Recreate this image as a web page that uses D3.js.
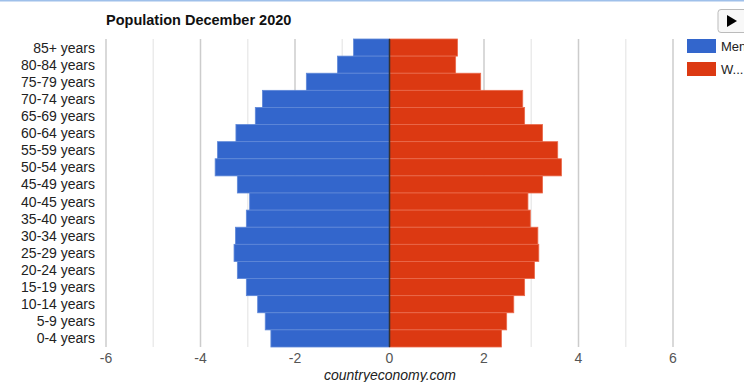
<!DOCTYPE html>
<html>
<head>
<meta charset="utf-8">
<script src="https://cdn.jsdelivr.net/npm/d3@7"></script>
<style>
  body { margin: 0; background: #fff; font-family: Arial, "Liberation Sans", sans-serif; }
  svg { display: block; }
</style>
</head>
<body>
<svg id="chart" width="744" height="382"></svg>
<script>
// === Data ===
const ageGroups = ['85+ years', '80-84 years', '75-79 years', '70-74 years', '65-69 years',
  '60-64 years', '55-59 years', '50-54 years', '45-49 years', '40-45 years', '35-40 years',
  '30-34 years', '25-29 years', '20-24 years', '15-19 years', '10-14 years', '5-9 years', '0-4 years'];
const men = [-0.76, -1.10, -1.76, -2.69, -2.84, -3.25, -3.64, -3.69, -3.22, -2.96, -3.03,
  -3.26, -3.29, -3.22, -3.03, -2.79, -2.63, -2.51];
const women = [1.44, 1.40, 1.93, 2.82, 2.86, 3.24, 3.56, 3.64, 3.24, 2.93, 2.98,
  3.14, 3.16, 3.07, 2.86, 2.63, 2.48, 2.37];
const ticks = [-6, -4, -2, 0, 2, 4, 6];
const seriesNames = ['Men', 'W...'];

const BLUE = '#3366CC', RED = '#DC3912';

// === Layout ===
const svg = d3.select('#chart');
const plot = { left: 106, right: 673, top: 39, bottom: 347 };

const x = d3.scaleLinear().domain([-6, 6]).range([plot.left, plot.right]);
const y = d3.scaleBand().domain(ageGroups).range([plot.top, plot.bottom]).padding(0);

// top border line
svg.append('line')
  .attr('x1', 0).attr('x2', 744).attr('y1', 0.5).attr('y2', 0.5)
  .attr('stroke', '#9fc0ea').attr('stroke-width', 2);

// title
svg.append('text')
  .attr('x', 106).attr('y', 25)
  .attr('font-size', 14.5).attr('font-weight', 'bold').attr('fill', '#111')
  .text('Population December 2020');

// gridlines (major every 2, minor every 1)
const grid = svg.append('g');
d3.range(-6, 7, 1).forEach(v => {
  grid.append('line')
    .attr('x1', x(v)).attr('x2', x(v))
    .attr('y1', plot.top).attr('y2', plot.bottom)
    .attr('stroke', v % 2 === 0 ? '#cccccc' : '#ebebeb')
    .attr('stroke-width', 1.5);
});

// bars
const bars = svg.append('g');
bars.selectAll('rect.men')
  .data(men)
  .join('rect')
  .attr('class', 'men')
  .attr('x', d => x(d))
  .attr('y', (d, i) => y(ageGroups[i]))
  .attr('width', d => x(0) - x(d))
  .attr('height', y.bandwidth())
  .attr('fill', BLUE)
  .attr('stroke', '#5f88d8').attr('stroke-width', 0.8);

bars.selectAll('rect.women')
  .data(women)
  .join('rect')
  .attr('class', 'women')
  .attr('x', x(0))
  .attr('y', (d, i) => y(ageGroups[i]))
  .attr('width', d => x(d) - x(0))
  .attr('height', y.bandwidth())
  .attr('fill', RED)
  .attr('stroke', '#ea6a4c').attr('stroke-width', 0.8);

// zero baseline
svg.append('line')
  .attr('x1', x(0)).attr('x2', x(0))
  .attr('y1', plot.top).attr('y2', plot.bottom)
  .attr('stroke', '#333').attr('stroke-width', 1.5);

// y labels
svg.append('g').selectAll('text')
  .data(ageGroups)
  .join('text')
  .attr('x', 95)
  .attr('y', d => y(d) + y.bandwidth() / 2 + 5)
  .attr('text-anchor', 'end')
  .attr('font-size', 14).attr('fill', '#222')
  .text(d => d);

// x tick labels
svg.append('g').selectAll('text')
  .data(ticks)
  .join('text')
  .attr('x', d => x(d))
  .attr('y', 363)
  .attr('text-anchor', 'middle')
  .attr('font-size', 14).attr('fill', '#555')
  .text(d => d);

// footer
svg.append('text')
  .attr('x', 390).attr('y', 380)
  .attr('text-anchor', 'middle')
  .attr('font-size', 14).attr('font-style', 'italic').attr('fill', '#222')
  .text('countryeconomy.com');

// legend
const legend = svg.append('g');
[BLUE, RED].forEach((c, i) => {
  legend.append('rect')
    .attr('x', 687).attr('y', 39 + i * 23)
    .attr('width', 29).attr('height', 14)
    .attr('fill', c);
  legend.append('text')
    .attr('x', 721).attr('y', 51 + i * 23)
    .attr('font-size', 13).attr('fill', '#222')
    .text(seriesNames[i]);
});

// play button
svg.append('rect')
  .attr('x', 718).attr('y', 9.5).attr('width', 30).attr('height', 23)
  .attr('rx', 3).attr('fill', '#f8f8f8').attr('stroke', '#bbb');
svg.append('path')
  .attr('d', 'M727,15 L737,21 L727,27 Z')
  .attr('fill', '#000');
</script>
</body>
</html>
